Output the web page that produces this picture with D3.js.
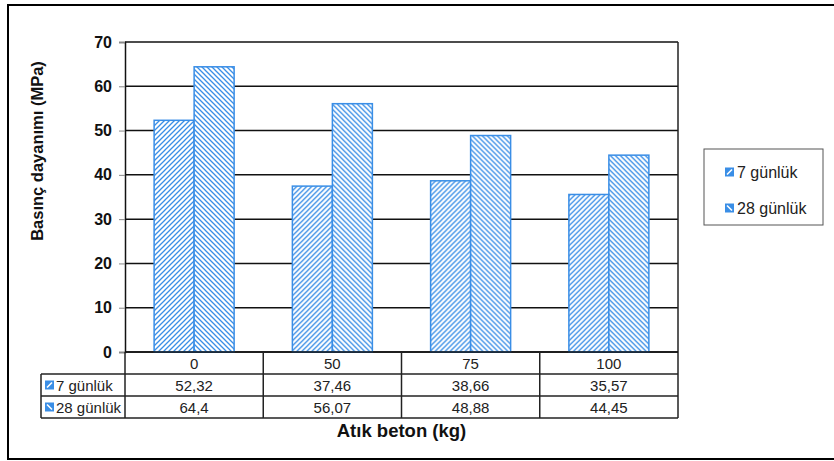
<!DOCTYPE html>
<html><head><meta charset="utf-8">
<script src="https://cdn.jsdelivr.net/npm/d3@7"></script>
<style>body{margin:0;background:#fff}svg{display:block;font-family:"Liberation Sans",Arial,sans-serif}</style>
</head><body>
<svg id="c" width="834" height="461"></svg>
<script>
const categories = ["0", "50", "75", "100"];
const seriesNames = ["7 günlük", "28 günlük"];
const values7 = [52.32, 37.46, 38.66, 35.57];
const values28 = [64.4, 56.07, 48.88, 44.45];
const labels7 = ["52,32", "37,46", "38,66", "35,57"];
const labels28 = ["64,4", "56,07", "48,88", "44,45"];
const yTicks = [0, 10, 20, 30, 40, 50, 60, 70];

const blue = "#3a8ee6";
const svg = d3.select("#c");
const defs = svg.append("defs");
function hatch(id, dir) {
  const p = defs.append("pattern").attr("id", id).attr("patternUnits", "userSpaceOnUse")
    .attr("width", 5).attr("height", 5);
  p.append("rect").attr("width", 5).attr("height", 5).attr("fill", "#fff");
  const d = dir === "up" ? "M-1,1 l2,-2 M0,5 l5,-5 M4,6 l2,-2" : "M-1,4 l2,2 M0,0 l5,5 M4,-1 l2,2";
  p.append("path").attr("d", d).attr("stroke", blue).attr("stroke-width", 1.3);
}
hatch("h7", "up");
hatch("h28", "down");
const fills = ["url(#h7)", "url(#h28)"];

// outer border
svg.append("rect").attr("x", 8).attr("y", 5).attr("width", 840).attr("height", 454)
  .attr("fill", "none").attr("stroke", "#000").attr("stroke-width", 2);

const pLeft = 125, pRight = 678, pTop = 42, pBottom = 352;
const x0 = d3.scaleBand().domain(categories).range([pLeft, pRight]).padding(0);
const x1 = d3.scaleBand().domain(seriesNames).range([0, x0.bandwidth()]).paddingInner(0).paddingOuter(0.728);
const y = d3.scaleLinear().domain([0, 70]).range([pBottom, pTop]);

// gridlines
svg.append("g").selectAll("line").data(yTicks).join("line")
  .attr("x1", pLeft).attr("x2", pRight).attr("y1", d => y(d)).attr("y2", d => y(d))
  .attr("stroke", "#111").attr("stroke-width", 1.5);

// y axis
const yAxis = svg.append("g").attr("transform", `translate(${pLeft},0)`)
  .call(d3.axisLeft(y).tickValues(yTicks).tickSize(6).tickPadding(7));
yAxis.select(".domain").attr("stroke", "#111").attr("stroke-width", 1.5);
yAxis.selectAll(".tick line").attr("stroke", "#888").attr("stroke-width", 1);
yAxis.selectAll(".tick text").attr("font-size", 16).attr("font-weight", "bold").attr("fill", "#111")
  .attr("font-family", "Liberation Sans, Arial, sans-serif");

// right border
svg.append("line").attr("x1", pRight).attr("x2", pRight).attr("y1", pTop).attr("y2", 418)
  .attr("stroke", "#222").attr("stroke-width", 1.5);

// bars
const data = categories.map((c, i) => ({c, vals: [values7[i], values28[i]]}));
const g = svg.append("g").selectAll("g").data(data).join("g")
  .attr("transform", d => `translate(${x0(d.c)},0)`);
g.selectAll("rect").data(d => d.vals.map((v, j) => ({s: seriesNames[j], v, j}))).join("rect")
  .attr("x", d => x1(d.s)).attr("width", x1.bandwidth())
  .attr("y", d => y(d.v)).attr("height", d => y(0) - y(d.v))
  .attr("fill", d => fills[d.j]).attr("stroke", blue).attr("stroke-width", 1.5);

// redraw zero line over bars
svg.append("line").attr("x1", pLeft).attr("x2", pRight).attr("y1", y(0)).attr("y2", y(0))
  .attr("stroke", "#111").attr("stroke-width", 1.5);

// data table
const rowY = [352, 374, 396, 418];
const tLeft = 41;
const tg = svg.append("g");
[374, 396, 418].forEach(yy => tg.append("line").attr("x1", tLeft).attr("x2", pRight)
  .attr("y1", yy).attr("y2", yy).attr("stroke", "#222").attr("stroke-width", 1.5));
tg.append("line").attr("x1", tLeft).attr("x2", tLeft).attr("y1", 374).attr("y2", 418)
  .attr("stroke", "#222").attr("stroke-width", 1.5);
categories.forEach(c => {
  tg.append("line").attr("x1", x0(c)).attr("x2", x0(c)).attr("y1", 352).attr("y2", 418)
    .attr("stroke", "#222").attr("stroke-width", 1.5);
});
const rows = [categories, labels7, labels28];
rows.forEach((r, ri) => {
  tg.selectAll(null).data(r).join("text")
    .attr("x", (d, i) => x0(categories[i]) + x0.bandwidth() / 2)
    .attr("y", (rowY[ri] + rowY[ri + 1]) / 2 + 5.5)
    .attr("text-anchor", "middle").attr("font-size", 15).attr("fill", "#222").text(d => d);
});
function sym(gr, x, yc, j) {
  gr.append("rect").attr("x", x).attr("y", yc - 4.5).attr("width", 9).attr("height", 9).attr("fill", blue);
  const d = j === 0 ? `M${x + 2},${yc + 2.5} L${x + 7},${yc - 2.5}` : `M${x + 2},${yc - 2.5} L${x + 7},${yc + 2.5}`;
  gr.append("path").attr("d", d).attr("stroke", "#fff").attr("stroke-width", 1.6);
}
seriesNames.forEach((s, j) => {
  const yc = (rowY[j + 1] + rowY[j + 2]) / 2;
  sym(tg, 45, yc, j);
  tg.append("text").attr("x", 56).attr("y", yc + 5.5).attr("font-size", 15).attr("fill", "#222").text(s);
});

// legend
const lg = svg.append("g");
lg.append("rect").attr("x", 704).attr("y", 149).attr("width", 119).attr("height", 76)
  .attr("fill", "#fff").attr("stroke", "#555").attr("stroke-width", 1);
seriesNames.forEach((s, j) => {
  const yc = [172, 208][j];
  sym(lg, 725, yc, j);
  lg.append("text").attr("x", 737).attr("y", yc + 6).attr("font-size", 16).attr("fill", "#222").text(s);
});

// titles
svg.append("text").attr("transform", "translate(43,151) rotate(-90)").attr("text-anchor", "middle")
  .attr("font-size", 16.5).attr("font-weight", "bold").attr("fill", "#111").text("Basınç dayanımı (MPa)");
svg.append("text").attr("x", (pLeft + pRight) / 2).attr("y", 437).attr("text-anchor", "middle")
  .attr("font-size", 18.5).attr("font-weight", "bold").attr("fill", "#111").text("Atık beton (kg)");
</script>
</body></html>
